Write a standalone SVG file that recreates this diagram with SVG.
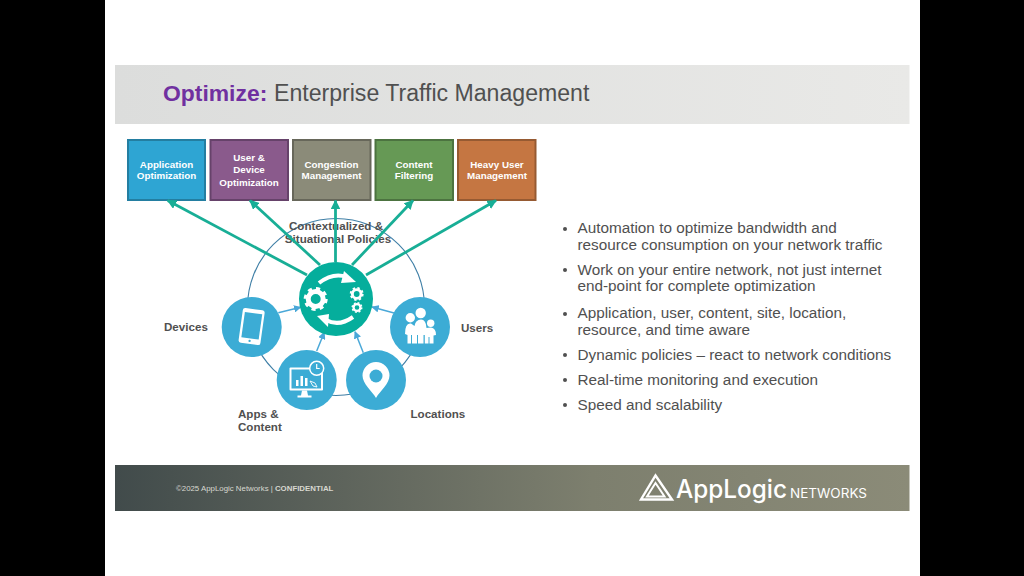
<svg xmlns="http://www.w3.org/2000/svg" xmlns:xlink="http://www.w3.org/1999/xlink" width="1024" height="576" viewBox="0 0 1024 576">
<style>
text{font-family:"Liberation Sans",Arial,sans-serif}
.box{stroke-width:2}
.bl{font-size:9.8px;font-weight:700;fill:#fff;text-anchor:middle}
.lab{font-size:11.6px;font-weight:700;fill:#505050}
.bul{font-size:15.3px;fill:#505050}
.big{stroke:#18ae96;stroke-width:2.8;fill:none;marker-end:url(#ga)}
.small{stroke:#4aa8d8;stroke-width:1.5;fill:none;marker-end:url(#ba)}
.node{fill:#3cacd5}
</style>
<defs>
<linearGradient id="tg" x1="0" x2="1" y1="0" y2="0"><stop offset="0" stop-color="#dcdddc"/><stop offset="1" stop-color="#e9e9e7"/></linearGradient>
<linearGradient id="fg" x1="0" x2="1" y1="0" y2="0"><stop offset="0" stop-color="#414b4b"/><stop offset="0.6" stop-color="#7d7f6e"/><stop offset="1" stop-color="#8b8b78"/></linearGradient>
<marker id="ga" viewBox="0 0 10 10" refX="9" refY="5" markerWidth="3.4" markerHeight="3.4" orient="auto"><path d="M0 0L10 5L0 10z" fill="#18ae96"/></marker>
<marker id="ba" viewBox="0 0 10 10" refX="9" refY="5" markerWidth="5" markerHeight="5" orient="auto"><path d="M0 0L10 5L0 10z" fill="#4aa8d8"/></marker>
<g id="gear"><circle r="7.5" fill="none" stroke="#fff" stroke-width="5"/><circle r="10.5" fill="none" stroke="#fff" stroke-width="3" stroke-dasharray="4.12 4.12"/></g>
</defs>
<rect width="1024" height="576" fill="#fff"/>
<rect x="0" y="0" width="105" height="576" fill="#000"/>
<rect x="920" y="0" width="104" height="576" fill="#000"/>
<rect x="115" y="65" width="794.500" height="59" fill="url(#tg)"/>
<text x="163" y="101" font-weight="700" fill="#7030a0" style="font-size:22.900px">Optimize:</text>
<text x="274" y="101" fill="#505050" style="font-size:23.100px">Enterprise Traffic Management</text>

<g id="b1"><rect class="box" x="128" y="140" width="77" height="60" fill="#2ea5d3" stroke="#237ea1"/><text class="bl" x="166.500" y="168">Application</text><text class="bl" x="166.500" y="179">Optimization</text></g>
<g id="b2"><rect class="box" x="210.500" y="140" width="77.500" height="60" fill="#8a5a8c" stroke="#66426a"/><text class="bl" x="249" y="161">User &amp;</text><text class="bl" x="249" y="173">Device</text><text class="bl" x="249" y="185.500">Optimization</text></g>
<g id="b3"><rect class="box" x="293" y="140" width="77.500" height="60" fill="#8b8b79" stroke="#67675a"/><text class="bl" x="331.500" y="168">Congestion</text><text class="bl" x="331.500" y="179">Management</text></g>
<g id="b4"><rect class="box" x="375.500" y="140" width="77.500" height="60" fill="#669955" stroke="#4c7340"/><text class="bl" x="414" y="168">Content</text><text class="bl" x="414" y="179">Filtering</text></g>
<g id="b5"><rect class="box" x="458" y="140" width="77.500" height="60" fill="#c57642" stroke="#965a32"/><text class="bl" x="497" y="167.500">Heavy User</text><text class="bl" x="497" y="179">Management</text></g>

<circle id="ring" cx="336" cy="307" r="88.500" fill="none" stroke="#3f7fa6" stroke-width="1.100"/>
<g id="policy"><text class="lab" x="336" y="229.500" text-anchor="middle">Contextualized &amp;</text><text class="lab" x="338" y="243" text-anchor="middle">Situational Policies</text></g>

<g id="connectors">
<path class="big" d="M307 275L167.700 200.500"/>
<path class="big" d="M320 265L250 200.500"/>
<path class="big" d="M335.500 262L335.500 200.500"/>
<path class="big" d="M352 265L413 200.500"/>
<path class="big" d="M366 275L496 200.500"/>
<path class="small" d="M278.300 312.700L300.700 307.300"/>
<path class="small" d="M394 313L372 307"/>
<path class="small" d="M316.700 351L324.300 332.300"/>
<path class="small" d="M363.300 352.700L355 331.700"/>
</g>

<g id="hub"><circle cx="336" cy="299" r="37" fill="#05ae9c"/>
<use xlink:href="#gear" href="#gear" transform="translate(315.700 299)"/>
<use xlink:href="#gear" href="#gear" transform="translate(356.700 294) scale(.58)"/>
<use xlink:href="#gear" href="#gear" transform="translate(357 307.500) scale(.46)"/>
<path d="M319 283Q333 272 347 277" fill="none" stroke="#fff" stroke-width="4"/><path d="M344 271L356 282L341 283z" fill="#fff"/>
<path d="M353 317Q339 327 326 320" fill="none" stroke="#fff" stroke-width="4"/><path d="M329 314L317 316L328 327z" fill="#fff"/>
</g>

<g id="devices"><circle class="node" cx="251.700" cy="327" r="30"/><g transform="rotate(8 251.700 326)"><rect x="240.700" y="309" width="22" height="35" rx="2.500" fill="#fff"/><rect x="243" y="313" width="17.500" height="25.500" fill="#3cacd5"/><circle cx="251.700" cy="341" r="1.200" fill="#3cacd5"/></g></g>
<text class="lab" x="164" y="331">Devices</text>

<g id="users"><circle class="node" cx="420" cy="327" r="30"/>
<g fill="#fff"><circle cx="410.300" cy="317.700" r="4.700"/><circle cx="420.700" cy="313" r="5.200"/><circle cx="430.700" cy="323.300" r="3.700"/>
<path d="M405 334Q405 323.500 410 323.500H411L414.500 326Q415.500 319.500 421 319.500Q426 319.500 426.500 328Q428 327.500 431 327.500Q436 328 436 335L433.500 335.500V343.500H429.500V337H428.500V343.500H424.800V335H423.500V343.500H418V335H417V343.500H412V335H411V343.500H407.500V335Z"/></g></g>
<text class="lab" x="461" y="332">Users</text>

<g id="apps"><circle class="node" cx="306.700" cy="380" r="30"/>
<rect x="289.500" y="367.500" width="33.500" height="23" rx="1" fill="#fff"/><rect x="291.500" y="369.500" width="29.500" height="19" fill="#3cacd5"/>
<path d="M302 390.500h5l1 5h3.500v2h-14v-2h3.500z" fill="#fff"/>
<path d="M296 380h2.500v6H296zM300.500 376h2.500v10h-2.500zM305 378h2.500v8H305z" fill="#fff"/>
<path d="M310 381l5 2l2 4l-4-1z" fill="none" stroke="#fff" stroke-width=".9"/>
<circle cx="316.700" cy="368.300" r="7" fill="#3cacd5" stroke="#fff" stroke-width="1.500"/><path d="M316.700 364v4.500h3" fill="none" stroke="#fff" stroke-width="1.200"/></g>
<text class="lab" x="238" y="418">Apps &amp;</text><text class="lab" x="238" y="431">Content</text>

<g id="locations"><circle class="node" cx="376" cy="380" r="30"/>
<path d="M376 398C372 391 362.500 384 362.500 375.500A13.500 13.500 0 0 1 389.500 375.500C389.500 384 380 391 376 398Z" fill="#fff"/><circle cx="376" cy="376" r="6.500" fill="#3cacd5"/></g>
<text class="lab" x="410.500" y="418">Locations</text>

<g id="bullets">
<g fill="#505050"><circle cx="565" cy="229" r="2"/><circle cx="565" cy="270" r="2"/><circle cx="565" cy="314" r="2"/><circle cx="565" cy="355" r="2"/><circle cx="565" cy="380" r="2"/><circle cx="565" cy="405" r="2"/></g>
<text class="bul" x="577.500" y="233">Automation to optimize bandwidth and</text>
<text class="bul" x="577.500" y="250">resource consumption on your network traffic</text>
<text class="bul" x="577.500" y="274.500">Work on your entire network, not just internet</text>
<text class="bul" x="577.500" y="291">end-point for complete optimization</text>
<text class="bul" x="577.500" y="318">Application, user, content, site, location,</text>
<text class="bul" x="577.500" y="334.500">resource, and time aware</text>
<text class="bul" x="577.500" y="359.500">Dynamic policies – react to network conditions</text>
<text class="bul" x="577.500" y="384.500">Real-time monitoring and execution</text>
<text class="bul" x="577.500" y="410">Speed and scalability</text>
</g>

<g id="footer"><rect x="115" y="465" width="794.500" height="46" fill="url(#fg)"/>
<text x="176" y="491" fill="#d8d8d0" style="font-size:7.850px">©2025 AppLogic Networks  | <tspan font-weight="700">CONFIDENTIAL</tspan></text>
<g id="logo" fill="none" stroke="#fff" stroke-linejoin="miter"><path d="M655.500 475.500L672 499.500H641z" stroke-width="2.400"/><path d="M655.500 483L664.500 496.500H647z" stroke-width="2"/></g>
<text x="676" y="498" fill="#fff" style="font-family:'Inter',sans-serif;font-size:25px;font-weight:500" textLength="111" lengthAdjust="spacingAndGlyphs">AppLogic</text>
<text x="790" y="497.500" fill="#fff" style="font-family:'Inter',sans-serif;font-size:12.500px" textLength="77" lengthAdjust="spacingAndGlyphs">NETWORKS</text>
</g>
</svg>
